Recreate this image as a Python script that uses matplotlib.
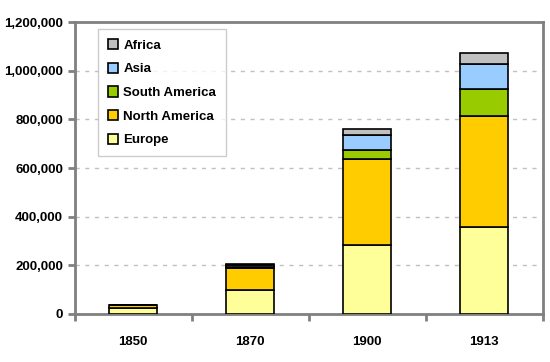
import matplotlib.pyplot as plt
import numpy as np

plt.rcParams['font.family'] = ['Liberation Sans', 'DejaVu Sans']
plt.rcParams['font.weight'] = 'bold'

years = ['1850', '1870', '1900', '1913']
regions = ['Europe', 'North America', 'South America', 'Asia', 'Africa']
europe = [25000, 100000, 284000, 358000]
north_america = [12000, 90000, 353000, 456000]
south_america = [0, 5000, 37000, 111000]
asia = [0, 6000, 62000, 102000]
africa = [0, 4000, 24000, 46000]
colors = ['#FFFF99', '#FFCC00', '#99CC00', '#99CCFF', '#C0C0C0']

series = [europe, north_america, south_america, asia, africa]

fig = plt.figure(figsize=(5.5, 3.62), dpi=100)
ax = fig.add_axes([0.136, 0.1326, 0.851, 0.8064])

x = np.arange(len(years))
bottom = np.zeros(len(years))
handles = []
for name, vals, c in zip(regions, series, colors):
    b = ax.bar(x, vals, 0.41, bottom=bottom, color=c, edgecolor='black',
               linewidth=1.2, label=name, zorder=3)
    handles.append(b)
    bottom += np.array(vals)

ax.set_xlim(-0.5, 3.5)
ax.set_ylim(0, 1200000)
ax.set_yticks(np.arange(0, 1200001, 200000))
ax.set_yticklabels(['{:,}'.format(v) for v in range(0, 1200001, 200000)], fontsize=9.5, fontweight='bold')
ax.set_xticks(np.arange(-0.5, 3.6, 1))
ax.set_xticklabels([])
ax.set_xticks(x, minor=True)
ax.set_xticklabels(years, minor=True, fontsize=9.5, fontweight='bold')
ax.tick_params(axis='x', which='minor', length=0, pad=16)
ax.tick_params(axis='both', which='major', color='#808080', width=2, length=5, direction='out')
ax.yaxis.grid(True, linestyle=(0, (3, 4)), color='#C0C0C0', linewidth=1, zorder=0)

for s in ax.spines.values():
    s.set_color('#808080')
    s.set_linewidth(2)

leg = ax.legend(handles[::-1], regions[::-1], loc='upper left', bbox_to_anchor=(0.049, 0.976),
                borderaxespad=0, frameon=True, fancybox=False, edgecolor='#C0C0C0',
                handlelength=0.8, handleheight=0.8, handletextpad=0.4, labelspacing=0.84,
                borderpad=0.75, prop={'weight': 'bold', 'size': 9.5})
leg.get_frame().set_linewidth(1)

fig.savefig('out.png', dpi=100)
